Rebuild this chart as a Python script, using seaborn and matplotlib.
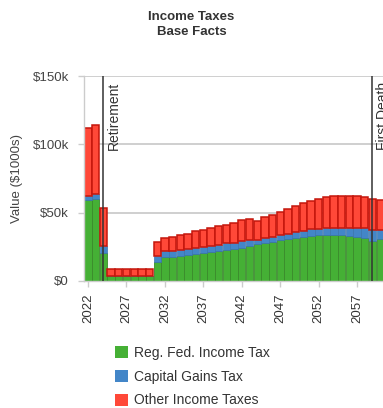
import matplotlib
matplotlib.use("Agg")
import matplotlib.pyplot as plt
from matplotlib.patches import Patch
import numpy as np
import pandas as pd
import seaborn as sns

# Income taxes, $1000s per year
years = list(range(2022, 2061))
reg_fed = [59, 60, 20.2, 3.5, 3.5, 3.5, 3.5, 3.5, 3.5, 14, 17.5, 17.8, 18.3, 19, 19.7,
           20.5, 21.3, 22, 22.6, 23.5, 24.5, 25.6, 26.8, 27.5, 28.6, 29.8, 30.5, 31.2,
           32.2, 32.8, 33.5, 34, 34, 33.6, 33, 32.4, 31.2, 29, 30.6]
cap_gains = [3, 3.5, 5.6, 0.3, 0.3, 0.3, 0.3, 0.3, 0.3, 4.2, 4.4, 4.4, 4.4, 4.2, 4.2,
             4.3, 4.4, 4.7, 4.9, 4.6, 4.6, 4.6, 2.9, 3.7, 3.7, 3.7, 3.9, 4.3,
             4.1, 4.9, 4.9, 4.8, 4.8, 5.3, 6.1, 6.5, 7.3, 8.2, 7.0]
other = [50, 51, 27.7, 4.9, 4.9, 4.9, 4.9, 4.9, 4.9, 10.7, 9.2, 9.8, 10.9, 11.2, 12.4,
         12.4, 13.1, 13.7, 13.8, 14.6, 15.3, 15.5, 14.5, 15.3, 16.2, 17.1, 18.6, 19.5,
         20.6, 20.7, 21.8, 22.7, 23.2, 23.1, 22.9, 23.1, 23.0, 22.8, 21.9]
tick_years = years[::5]
events = {"Retirement": 2024, "First Death": 2059}

GREEN, BLUE, RED = "#45b035", "#4386c8", "#ff4838"

sns.set_style("white")
plt.rcParams["font.family"] = ["Liberation Sans", "DejaVu Sans"]

df = pd.DataFrame({"year": years, "reg": reg_fed, "cap": cap_gains, "other": other})
base_cap = np.array(reg_fed)
base_other = base_cap + np.array(cap_gains)

fig = plt.figure(figsize=(3.83, 4.08), dpi=100)
ax = fig.add_axes([84.2 / 383, 127 / 408, 299.8 / 383, 205 / 408])

sns.barplot(data=df, x="year", y="reg", color=GREEN, saturation=1, width=0.95,
            errorbar=None, edgecolor="#3a8a2c", linewidth=0.6, ax=ax, zorder=2)
sns.barplot(data=df, x="year", y="cap", color=BLUE, saturation=1, width=0.95,
            errorbar=None, edgecolor="#3a74ad", linewidth=0.5, bottom=base_cap,
            ax=ax, zorder=2)
sns.barplot(data=df, x="year", y="other", color=RED, saturation=1, width=0.95,
            errorbar=None, edgecolor="#c4160c", linewidth=1.1, bottom=base_other,
            ax=ax, zorder=2)

ax.set_xlim(-0.5, len(years) - 0.5)
ax.set_ylim(0, 150)
ax.set_yticks([0, 50, 100, 150])
ax.set_yticklabels(["$0", "$50k", "$100k", "$150k"])
ax.set_xticks([years.index(y) for y in tick_years])
ax.set_xticklabels([str(y) for y in tick_years], rotation=90)
ax.tick_params(axis="y", length=4, width=1, color="#cccccc", pad=7,
               labelsize=9.5, labelcolor="#444444", left=True)
ax.tick_params(axis="x", length=4, width=1, color="#cccccc", pad=5,
               labelsize=9.5, labelcolor="#333333", bottom=True)
ax.set_xlabel("")
ax.set_ylabel("Value ($1000s)", fontsize=9.5, color="#444444", labelpad=7)

ax.yaxis.grid(True, color="#cccccc", linewidth=1.3, zorder=0)
ax.set_axisbelow(True)
for side in ["top", "right"]:
    ax.spines[side].set_visible(False)
for side in ["left", "bottom"]:
    ax.spines[side].set_color("#cccccc")
    ax.spines[side].set_linewidth(1)

# event markers (First Death label runs off the right edge, as in the original)
for label, yr in events.items():
    xpos = years.index(yr)
    ax.axvline(xpos - 0.1, color="#333333", linewidth=1.1, zorder=4)
    ax.text(xpos + 0.5, 146, label, rotation=90, ha="left", va="top",
            fontsize=10, color="#333333", zorder=5, clip_on=False)

fig.text(0.5, 0.972, "Income Taxes\nBase Facts", ha="center", va="top",
         fontsize=9.5, fontweight="bold", color="#333333", linespacing=1.25)

handles = [Patch(facecolor=GREEN, edgecolor="none"),
           Patch(facecolor=BLUE, edgecolor="none"),
           Patch(facecolor=RED, edgecolor="none")]
labels = ["Reg. Fed. Income Tax", "Capital Gains Tax", "Other Income Taxes"]
fig.legend(handles, labels, loc="upper left", bbox_to_anchor=(115 / 383, 1 - 346 / 408),
           frameon=False, fontsize=10, handlelength=0.95, handleheight=0.95,
           handletextpad=0.45, labelspacing=0.7, borderpad=0, borderaxespad=0,
           labelcolor="#333333")

fig.savefig("out.png", dpi=100)
